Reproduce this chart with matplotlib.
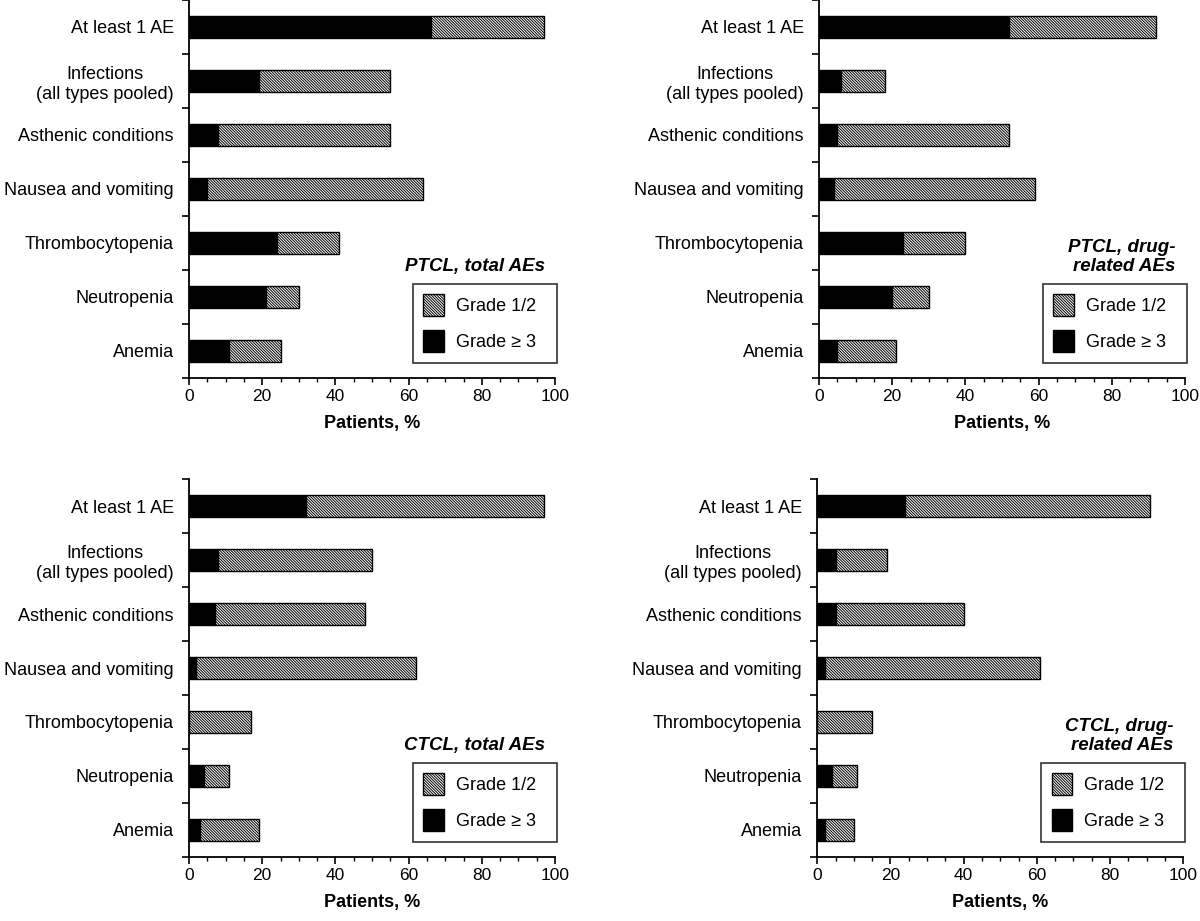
import matplotlib
matplotlib.use("Agg")
import matplotlib.pyplot as plt
import matplotlib.patches as mpatches
import numpy as np

plt.rcParams['font.family'] = ['Liberation Sans', 'DejaVu Sans']
plt.rcParams['hatch.linewidth'] = 0.7

categories = ["At least 1 AE", "Infections\n(all types pooled)", "Asthenic conditions",
              "Nausea and vomiting", "Thrombocytopenia", "Neutropenia", "Anemia"]

# grade >= 3 and grade 1/2 percentages per panel
ptcl_total_g3 = [66, 19, 8, 5, 24, 21, 11]
ptcl_total_g12 = [31, 36, 47, 59, 17, 9, 14]
ptcl_drug_g3 = [52, 6, 5, 4, 23, 20, 5]
ptcl_drug_g12 = [40, 12, 47, 55, 17, 10, 16]
ctcl_total_g3 = [32, 8, 7, 2, 0, 4, 3]
ctcl_total_g12 = [65, 42, 41, 60, 17, 7, 16]
ctcl_drug_g3 = [24, 5, 5, 2, 0, 4, 2]
ctcl_drug_g12 = [67, 14, 35, 59, 15, 7, 8]

panels = [
    ("PTCL, total AEs", ptcl_total_g3, ptcl_total_g12),
    ("PTCL, drug-\nrelated AEs", ptcl_drug_g3, ptcl_drug_g12),
    ("CTCL, total AEs", ctcl_total_g3, ctcl_total_g12),
    ("CTCL, drug-\nrelated AEs", ctcl_drug_g3, ctcl_drug_g12),
]

# axes boxes [left, bottom, width, height] in figure fraction
boxes = [
    [0.1575, 0.5896, 0.305, 0.4104],
    [0.6825, 0.5896, 0.305, 0.4104],
    [0.1575, 0.0695, 0.305, 0.4104],
    [0.681, 0.0695, 0.305, 0.4104],
]

HATCH = '\\' * 12

fig = plt.figure(figsize=(12, 9.21), dpi=100)

for (title, g3, g12), box in zip(panels, boxes):
    ax = fig.add_axes(box)
    y = np.arange(len(categories))
    ax.barh(y, g3, height=0.41, color='black', edgecolor='black', linewidth=1)
    ax.barh(y, g12, left=g3, height=0.41, color='white', edgecolor='black',
            linewidth=1, hatch=HATCH)

    ax.set_ylim(len(categories) - 0.5, -0.5)
    ax.set_xlim(0, 100)
    for s in ['top', 'right']:
        ax.spines[s].set_visible(False)
    for s in ['left', 'bottom']:
        ax.spines[s].set_linewidth(1.3)

    ax.set_yticks(y)
    ax.set_yticklabels(categories, fontsize=13)
    for lbl in ax.get_yticklabels():
        lbl.set_multialignment('center')
    ax.set_yticks(np.arange(len(categories) + 1) - 0.5, minor=True)
    ax.tick_params(axis='y', which='major', length=0, pad=11)
    ax.tick_params(axis='y', which='minor', length=5, width=1.2, direction='out')

    ax.set_xticks(np.arange(0, 101, 20))
    ax.set_xticks(np.arange(0, 101, 5), minor=True)
    ax.tick_params(axis='x', which='major', length=5, width=1.2, direction='out',
                   labelsize=12.5, pad=3)
    ax.tick_params(axis='x', which='minor', length=3, width=1.0, direction='out')
    ax.set_xlabel("Patients, %", fontsize=13, fontweight='bold', labelpad=8)

    ax.text(0.973, 0.272, title, transform=ax.transAxes, ha='right', va='bottom',
            fontsize=13.5, fontweight='bold', fontstyle='italic', linespacing=1.15)

    handles = [mpatches.Patch(facecolor='white', edgecolor='black', hatch=HATCH,
                              linewidth=1, label='Grade 1/2  '),
               mpatches.Patch(facecolor='black', edgecolor='black', label='Grade \u2265 3  ')]
    leg = ax.legend(handles=handles, loc='lower right', bbox_to_anchor=(1.005, 0.04),
                    borderaxespad=0, fontsize=13, frameon=True, fancybox=False,
                    handlelength=1.15, handleheight=1.5, handletextpad=0.65,
                    labelspacing=0.75, borderpad=0.6)
    leg.get_frame().set_edgecolor('black')
    leg.get_frame().set_linewidth(1.2)

fig.savefig("out.png", dpi=100)
